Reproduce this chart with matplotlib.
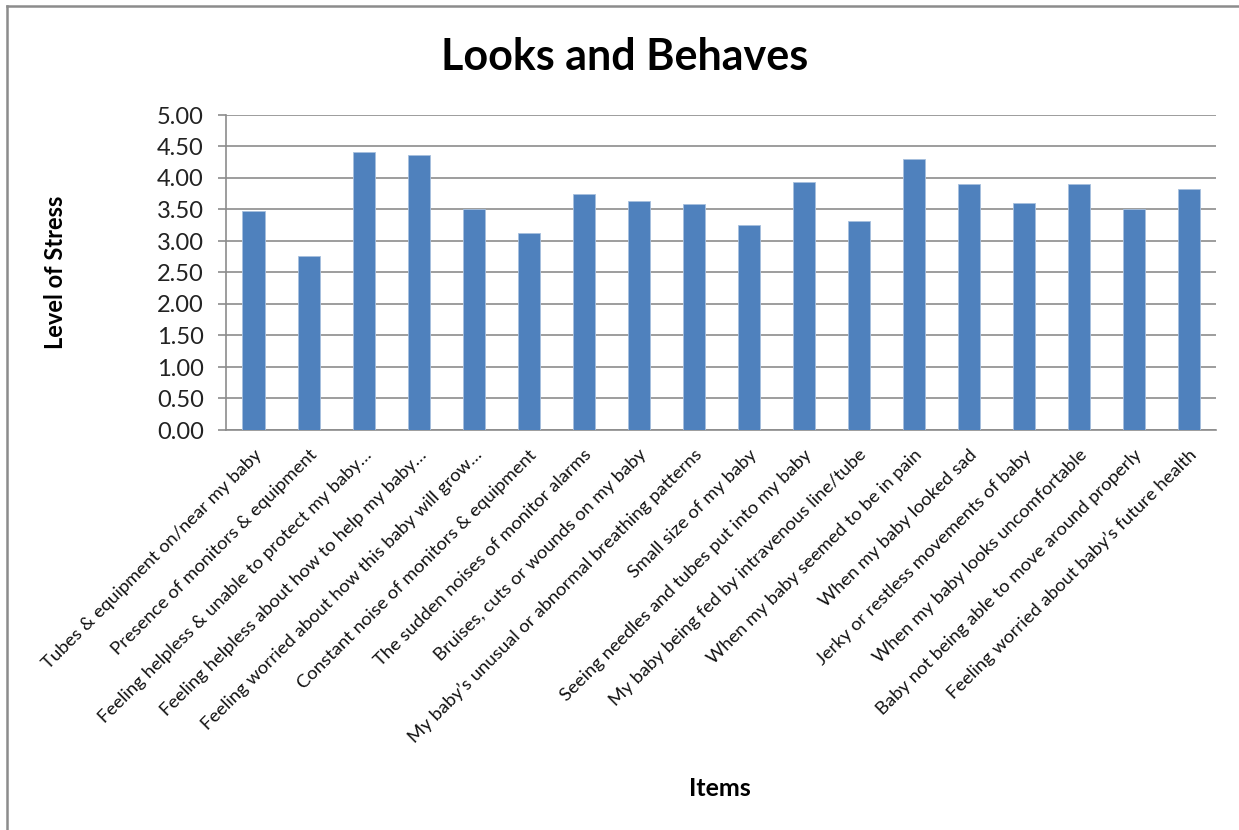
import matplotlib.pyplot as plt
import matplotlib.lines as mlines

plt.rcParams['font.family'] = ['Lato', 'DejaVu Sans']

# data
items = [
    'Tubes & equipment on/near my baby',
    'Presence of monitors & equipment',
    'Feeling helpless & unable to protect my baby…',
    'Feeling helpless about how to help my baby…',
    'Feeling worried about how this baby will grow…',
    'Constant noise of monitors & equipment',
    'The sudden noises of monitor alarms',
    'Bruises, cuts or wounds on my baby',
    'My baby’s unusual or abnormal breathing patterns',
    'Small size of my baby',
    'Seeing needles and tubes put into my baby',
    'My baby being fed by intravenous line/tube',
    'When my baby seemed to be in pain',
    'When my baby looked sad',
    'Jerky or restless movements of baby',
    'When my baby looks uncomfortable',
    'Baby not being able to move around properly',
    'Feeling worried about baby’s future health',
]
stress = [3.47, 2.76, 4.42, 4.36, 3.50, 3.12, 3.75, 3.63, 3.59,
          3.26, 3.94, 3.31, 4.30, 3.91, 3.61, 3.91, 3.50, 3.83]
yticks = [0.0, 0.5, 1.0, 1.5, 2.0, 2.5, 3.0, 3.5, 4.0, 4.5, 5.0]

W, H = 1239, 830
fig = plt.figure(figsize=(W / 100, H / 100), dpi=100)
ax = fig.add_axes([226 / W, 1 - 430 / H, (1216 - 226) / W, (430 - 115) / H])

x = range(len(items))
ax.bar(x, stress, width=0.4, color='#4F81BD', edgecolor='#A7C0DE', linewidth=0.6, zorder=3)

ax.set_xlim(-0.5, len(items) - 0.5)
ax.set_ylim(0, 5)
ax.set_yticks(yticks)
ax.set_yticklabels([f'{v:.2f}' for v in yticks], fontsize=17, color='#222222')
ax.yaxis.grid(True, color='#8C8C8C', linewidth=1.2, zorder=0)

ax.set_xticks(list(x))
ax.set_xticklabels(items, rotation=45, ha='right', va='top', rotation_mode='anchor',
                   fontsize=13.3, color='#111111')
ax.tick_params(axis='x', length=0, pad=12)
ax.tick_params(axis='y', length=6, width=1.2, color='#8C8C8C', pad=10)

for s in ['top', 'right']:
    ax.spines[s].set_visible(False)
for s in ['left', 'bottom']:
    ax.spines[s].set_color('#8C8C8C')
    ax.spines[s].set_linewidth(1.2)

fig.text(625 / W, 1 - 57 / H, 'Looks and Behaves', ha='center', va='center',
         fontsize=31, fontweight='bold')
fig.text(56 / W, 1 - 272 / H, 'Level of Stress', ha='center', va='center',
         rotation=90, fontsize=17, fontweight='bold')
fig.text(720 / W, 1 - 788 / H, 'Items', ha='center', va='center',
         fontsize=18, fontweight='bold')

# outer chart frame (left and top edges visible)
fig.add_artist(mlines.Line2D([7 / W, 7 / W], [0, 1 - 6 / H], transform=fig.transFigure,
                             color='#8C8C8C', linewidth=1.8))
fig.add_artist(mlines.Line2D([7 / W, 1], [1 - 6 / H, 1 - 6 / H], transform=fig.transFigure,
                             color='#8C8C8C', linewidth=1.8))

fig.savefig('out.png', dpi=100)
